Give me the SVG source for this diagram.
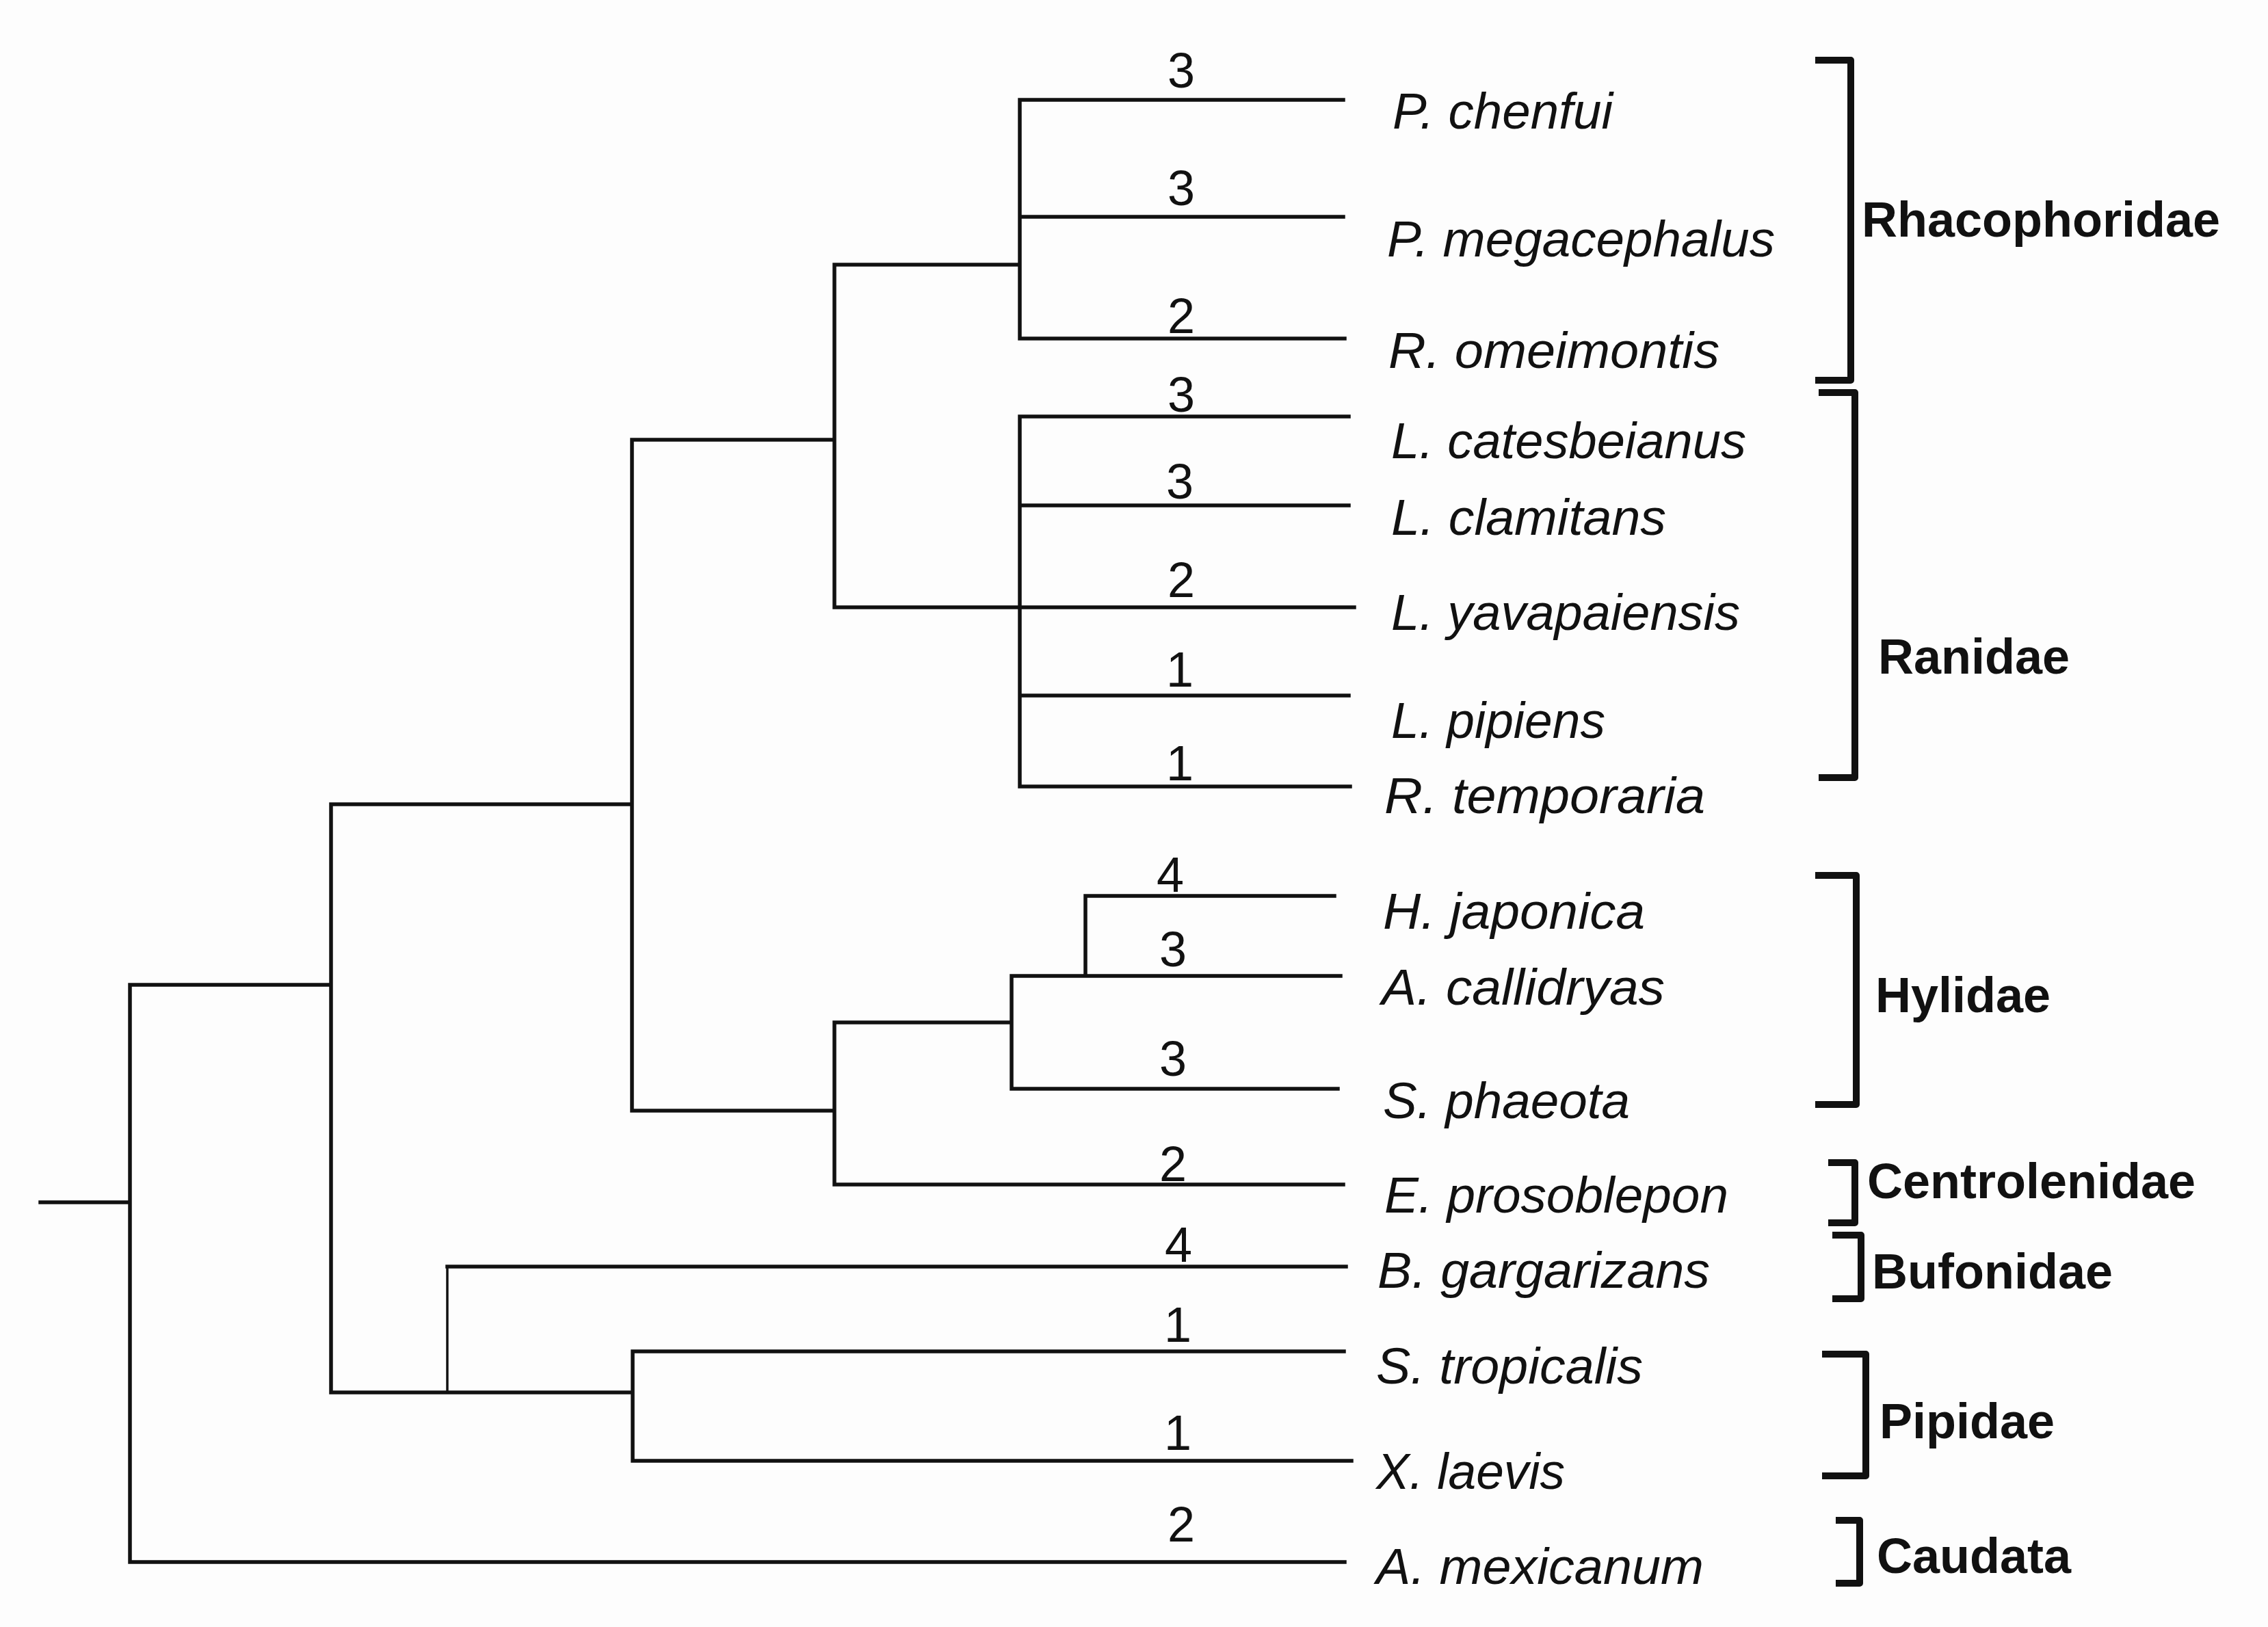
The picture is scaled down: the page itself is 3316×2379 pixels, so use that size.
<svg xmlns="http://www.w3.org/2000/svg" width="3316" height="2379" viewBox="0 0 3316 2379">
<style>
.br{fill:none;stroke:#111;stroke-width:5.5;stroke-linecap:square}
.thin{stroke-width:3.5}
.bk{fill:none;stroke:#111;stroke-width:10;stroke-linejoin:round}
.sp{font-family:"Liberation Sans",Arial,sans-serif;font-style:italic;font-size:74px;fill:#111}
.num{font-family:"Liberation Sans",Arial,sans-serif;font-size:72px;fill:#111;text-anchor:middle}
.fam{font-family:"Liberation Sans",Arial,sans-serif;font-weight:bold;font-size:72px;fill:#111}
</style>
<rect width="3316" height="2379" fill="#fdfdfd"/>
<g id="connectors">
<path class="br" d="M59,1758H190M190,1440V2284M190,2284H1966M190,1440H484M484,1176V2036M484,1176H924M924,643V1624M924,643H1220M1220,387V888M1220,387H1491M1491,146V495M1491,146H1964M1491,317H1964M1491,495H1966M1220,888H1980M1491,609V1150M1491,609H1972M1491,739H1972M1491,1017H1972M1491,1150H1974M924,1624H1220M1220,1495V1732M1220,1495H1479M1479,1427V1592M1479,1427H1960M1479,1592H1956M1587,1310V1427M1587,1310H1951M1220,1732H1964M484,2036H925M654,1852H1968M925,1976V2136M925,1976H1965M925,2136H1976"/>
<path class="br thin" d="M654,1852V2036"/>
</g>
<g id="branch-labels">
<text class="num" x="1727" y="128">3</text>
<text class="num" x="1727" y="300">3</text>
<text class="num" x="1727" y="487">2</text>
<text class="num" x="1727" y="602">3</text>
<text class="num" x="1725" y="729">3</text>
<text class="num" x="1727" y="873">2</text>
<text class="num" x="1725" y="1004">1</text>
<text class="num" x="1725" y="1141">1</text>
<text class="num" x="1711" y="1304">4</text>
<text class="num" x="1715" y="1413">3</text>
<text class="num" x="1715" y="1573">3</text>
<text class="num" x="1715" y="1727">2</text>
<text class="num" x="1723" y="1845">4</text>
<text class="num" x="1722" y="1962">1</text>
<text class="num" x="1722" y="2120">1</text>
<text class="num" x="1727" y="2254">2</text>
</g>
<g id="taxa">
<g id="p-chenfui"><text class="sp" x="2036" y="188" textLength="322" lengthAdjust="spacingAndGlyphs">P. chenfui</text></g>
<g id="p-megacephalus"><text class="sp" x="2028" y="375" textLength="567" lengthAdjust="spacingAndGlyphs">P. megacephalus</text></g>
<g id="r-omeimontis"><text class="sp" x="2030" y="538" textLength="484" lengthAdjust="spacingAndGlyphs">R. omeimontis</text></g>
<g id="l-catesbeianus"><text class="sp" x="2034" y="670" textLength="519" lengthAdjust="spacingAndGlyphs">L. catesbeianus</text></g>
<g id="l-clamitans"><text class="sp" x="2034" y="782" textLength="402" lengthAdjust="spacingAndGlyphs">L. clamitans</text></g>
<g id="l-yavapaiensis"><text class="sp" x="2034" y="921" textLength="510" lengthAdjust="spacingAndGlyphs">L. yavapaiensis</text></g>
<g id="l-pipiens"><text class="sp" x="2034" y="1079" textLength="313" lengthAdjust="spacingAndGlyphs">L. pipiens</text></g>
<g id="r-temporaria"><text class="sp" x="2024" y="1189" textLength="469" lengthAdjust="spacingAndGlyphs">R. temporaria</text></g>
<g id="h-japonica"><text class="sp" x="2022" y="1358" textLength="383" lengthAdjust="spacingAndGlyphs">H. japonica</text></g>
<g id="a-callidryas"><text class="sp" x="2020" y="1469" textLength="414" lengthAdjust="spacingAndGlyphs">A. callidryas</text></g>
<g id="s-phaeota"><text class="sp" x="2022" y="1635" textLength="361" lengthAdjust="spacingAndGlyphs">S. phaeota</text></g>
<g id="e-prosoblepon"><text class="sp" x="2024" y="1773" textLength="503" lengthAdjust="spacingAndGlyphs">E. prosoblepon</text></g>
<g id="b-gargarizans"><text class="sp" x="2014" y="1883" textLength="486" lengthAdjust="spacingAndGlyphs">B. gargarizans</text></g>
<g id="s-tropicalis"><text class="sp" x="2012" y="2023" textLength="390" lengthAdjust="spacingAndGlyphs">S. tropicalis</text></g>
<g id="x-laevis"><text class="sp" x="2012" y="2177" textLength="276" lengthAdjust="spacingAndGlyphs">X. laevis</text></g>
<g id="a-mexicanum"><text class="sp" x="2012" y="2316" textLength="479" lengthAdjust="spacingAndGlyphs">A. mexicanum</text></g>
</g>
<g id="families">
<g id="rhacophoridae"><path class="bk" d="M2654,88H2706V556H2654"/><text class="fam" x="2722" y="346">Rhacophoridae</text></g>
<g id="ranidae"><path class="bk" d="M2659,574H2712V1137H2659"/><text class="fam" x="2746" y="985">Ranidae</text></g>
<g id="hylidae"><path class="bk" d="M2654,1280H2714V1615H2654"/><text class="fam" x="2742" y="1480">Hylidae</text></g>
<g id="centrolenidae"><path class="bk" d="M2673,1700H2712V1788H2673"/><text class="fam" x="2730" y="1752">Centrolenidae</text></g>
<g id="bufonidae"><path class="bk" d="M2679,1806H2721V1899H2679"/><text class="fam" x="2737" y="1884">Bufonidae</text></g>
<g id="pipidae"><path class="bk" d="M2664,1980H2728V2158H2664"/><text class="fam" x="2748" y="2103">Pipidae</text></g>
<g id="caudata"><path class="bk" d="M2684,2223H2719V2315H2684"/><text class="fam" x="2744" y="2300">Caudata</text></g>
</g>
</svg>
